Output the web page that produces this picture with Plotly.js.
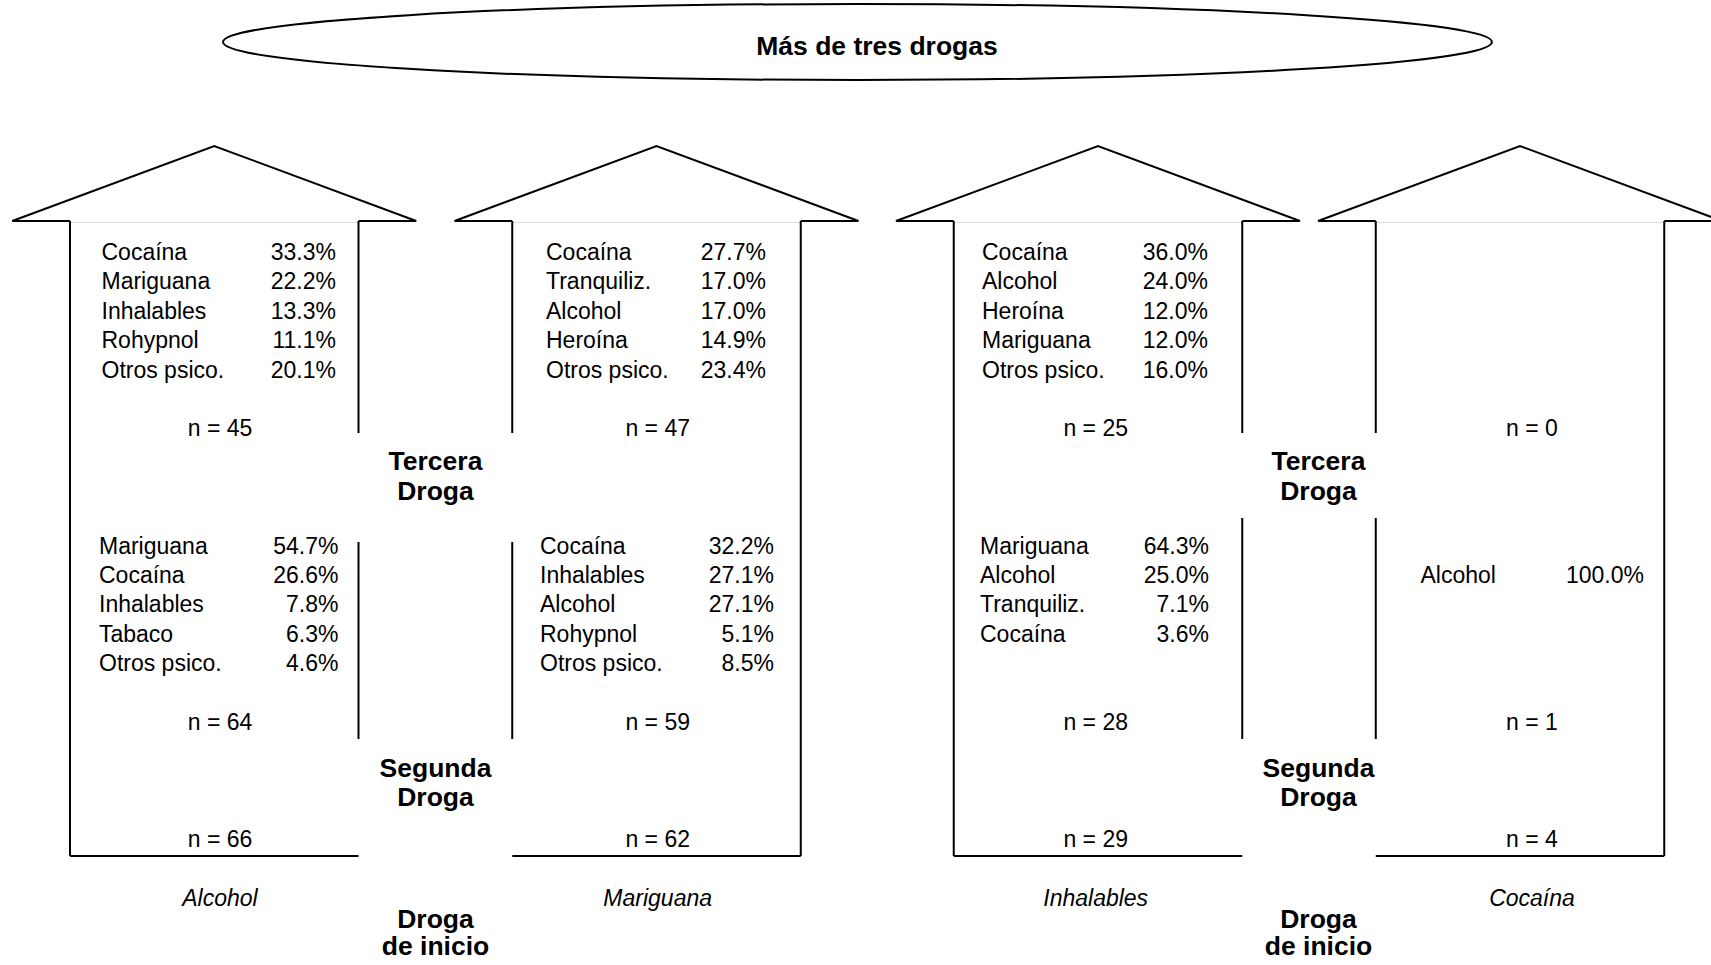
<!DOCTYPE html>
<html>
<head>
<meta charset="utf-8">
<script src="https://cdn.plot.ly/plotly-3.0.1.min.js"></script>
<style>
  html, body { margin: 0; padding: 0; background: #ffffff; }
  #chart { width: 1711px; height: 965px; }
</style>
</head>
<body>
<div id="chart"></div>
<script>
// ---------------- DATA ----------------
const chartTitle = 'Más de tres drogas';
const startDrugs = ['Alcohol', 'Mariguana', 'Inhalables', 'Cocaína'];
const nStart  = [66, 62, 29, 4];
const nSecond = [64, 59, 28, 1];
const nThird  = [45, 47, 25, 0];

const secondLabels = [
  ['Mariguana', 'Cocaína', 'Inhalables', 'Tabaco', 'Otros psico.'],
  ['Cocaína', 'Inhalables', 'Alcohol', 'Rohypnol', 'Otros psico.'],
  ['Mariguana', 'Alcohol', 'Tranquiliz.', 'Cocaína'],
  ['Alcohol']
];
const secondPcts = [
  [54.7, 26.6, 7.8, 6.3, 4.6],
  [32.2, 27.1, 27.1, 5.1, 8.5],
  [64.3, 25.0, 7.1, 3.6],
  [100.0]
];
const thirdLabels = [
  ['Cocaína', 'Mariguana', 'Inhalables', 'Rohypnol', 'Otros psico.'],
  ['Cocaína', 'Tranquiliz.', 'Alcohol', 'Heroína', 'Otros psico.'],
  ['Cocaína', 'Alcohol', 'Heroína', 'Mariguana', 'Otros psico.'],
  []
];
const thirdPcts = [
  [33.3, 22.2, 13.3, 11.1, 20.1],
  [27.7, 17.0, 17.0, 14.9, 23.4],
  [36.0, 24.0, 12.0, 12.0, 16.0],
  []
];
const stageLabels = [['Tercera', 'Droga'], ['Segunda', 'Droga'], ['Droga', 'de inicio']];

// ---------------- GEOMETRY (layout only) ----------------
const W = 1711, H = 965;
const arrowCenters = [214.25, 656.5, 1098, 1520];
const shaftHalf = 144.25, headHalf = 202;
const apexY = 146, baseY = 221, bottomY = 856;
const innerGaps = [ // [upper segment end, lower segment start, lower segment end] for inner sides per pair
  [433, 542, 739],
  [433, 518, 739]
];
const pairMid = [435.5, 1318.5];
const labelLeftThird  = [101.5, 546, 982, null];
const valueRightThird = [336, 766, 1208, null];
const labelLeftSecond  = [99, 540, 980, 1420.5];
const valueRightSecond = [338.5, 774, 1209, 1644];
const nCenterX = [220, 657.7, 1095.7, 1532];
const dy = 2; // text baseline correction
const thirdRowY0 = 252 + dy, thirdStep = 29.5;
const secondRowY0 = 546 + dy, secondStep = 29.25;
const secondRowOffset = [0, 0, 0, 1];
const yNThird = 428 + dy, yNSecond = 722.5 + dy, yNStart = 839 + dy, yStartName = 898 + dy;
const stageY = [[461 + dy, 491 + dy], [768 + dy, 797.5 + dy], [919 + dy, 946 + dy]];

const FONT = 'Liberation Sans, Arial, Helvetica, sans-serif';
const REG = 23, BOLD = 26.5;
const black = '#000000';

// ---------------- SHAPES ----------------
const shapes = [];
const line = (x0, y0, x1, y1, color, width) => shapes.push({
  type: 'line', xref: 'x', yref: 'y', x0, y0, x1, y1,
  line: { color: color || black, width: width || 2 }
});

// ellipse
shapes.push({ type: 'circle', xref: 'x', yref: 'y', x0: 223, x1: 1492, y0: 4, y1: 80,
  line: { color: black, width: 2 }, fillcolor: 'rgba(0,0,0,0)' });

arrowCenters.forEach((c, i) => {
  const L = c - shaftHalf, R = c + shaftHalf;
  // head
  shapes.push({ type: 'path', xref: 'x', yref: 'y',
    path: `M ${L} ${baseY} L ${c - headHalf} ${baseY} L ${c} ${apexY} L ${c + headHalf} ${baseY} L ${R} ${baseY}`,
    line: { color: black, width: 2 }, fillcolor: 'rgba(0,0,0,0)' });
  // faint inner base line
  line(L, baseY + 1.5, R, baseY + 1.5, '#dddddd', 1);
  // bottom
  line(L, bottomY, R, bottomY);
  const pair = Math.floor(i / 2);
  const g = innerGaps[pair];
  const outerIsLeft = (i % 2 === 0);
  const outerX = outerIsLeft ? L : R;
  const innerX = outerIsLeft ? R : L;
  line(outerX, baseY, outerX, bottomY);
  line(innerX, baseY, innerX, g[0]);
  line(innerX, g[1], innerX, g[2]);
});

// ---------------- TEXT TRACES ----------------
const traces = [];
const textTrace = (xs, ys, texts, pos, size, family, color) => traces.push({
  type: 'scatter', mode: 'text', x: xs, y: ys, text: texts, textposition: pos,
  textfont: { family: family || FONT, size: size || REG, color: color || black },
  hoverinfo: 'skip', showlegend: false, cliponaxis: false
});
const fmt = v => v.toFixed(1) + '%';

for (let i = 0; i < 4; i++) {
  // third drug block
  if (thirdLabels[i].length) {
    const ys = thirdLabels[i].map((_, k) => thirdRowY0 + k * thirdStep);
    textTrace(ys.map(() => labelLeftThird[i]), ys, thirdLabels[i], 'middle right');
    textTrace(ys.map(() => valueRightThird[i]), ys, thirdPcts[i].map(fmt), 'middle left');
  }
  // second drug block
  const ys2 = secondLabels[i].map((_, k) => secondRowY0 + (k + secondRowOffset[i]) * secondStep);
  textTrace(ys2.map(() => labelLeftSecond[i]), ys2, secondLabels[i], 'middle right');
  textTrace(ys2.map(() => valueRightSecond[i]), ys2, secondPcts[i].map(fmt), 'middle left');
}

// n labels
textTrace(nCenterX, nCenterX.map(() => yNThird), nThird.map(n => 'n = ' + n), 'middle center');
textTrace(nCenterX, nCenterX.map(() => yNSecond), nSecond.map(n => 'n = ' + n), 'middle center');
textTrace(nCenterX, nCenterX.map(() => yNStart), nStart.map(n => 'n = ' + n), 'middle center');
// starting drug names (italic via HTML)
textTrace(nCenterX, nCenterX.map(() => yStartName), startDrugs.map(s => '<i>' + s + '</i>'), 'middle center');

// stage labels (bold)
stageLabels.forEach((lines, s) => {
  lines.forEach((t, k) => {
    textTrace(pairMid, pairMid.map(() => stageY[s][k]), pairMid.map(() => '<b>' + t + '</b>'), 'middle center', BOLD);
  });
});

// title in ellipse
textTrace([877], [48], ['<b>' + chartTitle + '</b>'], 'middle center', BOLD);

const layout = {
  width: W, height: H,
  margin: { l: 0, r: 0, t: 0, b: 0, pad: 0 },
  paper_bgcolor: '#ffffff', plot_bgcolor: '#ffffff',
  showlegend: false,
  xaxis: { range: [0, W], visible: false, fixedrange: true },
  yaxis: { range: [H, 0], visible: false, fixedrange: true },
  shapes: shapes,
  font: { family: FONT, color: black }
};

Plotly.newPlot('chart', traces, layout, { displayModeBar: false, staticPlot: true });
</script>
</body>
</html>
